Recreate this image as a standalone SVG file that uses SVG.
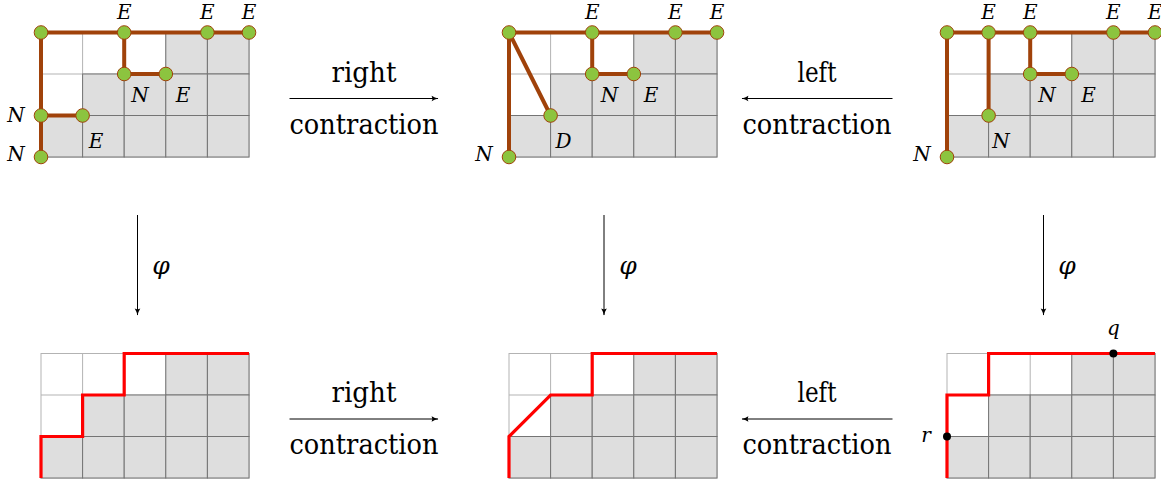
<svg xmlns="http://www.w3.org/2000/svg" xmlns:xlink="http://www.w3.org/1999/xlink" width="1161" height="482" viewBox="0 0 1161 482">
<style>
.lt{stroke:#b3b3b3;stroke-width:1;fill:none}
.sh{fill:#dedede;stroke:#747474;stroke-width:1}
.br{stroke:#a0420a;stroke-width:4;fill:none;stroke-linejoin:round}
.nd{fill:#8cc43f;stroke:#a0420a;stroke-width:1}
.red{stroke:#ff0000;stroke-width:3.2;fill:none;stroke-linejoin:miter}
.arr{stroke:#000;stroke-width:1;fill:none}
</style>
<defs>
<g id="grid">
<rect x="0" y="0" width="208" height="124.5" class="lt"/>
<path class="lt" d="M41.6 0V124.5M83.2 0V124.5M124.8 0V124.5M166.4 0V124.5M0 41.5H208M0 83H208"/>
<rect class="sh" x="124.8" y="0" width="41.6" height="41.5"/>
<rect class="sh" x="166.4" y="0" width="41.6" height="41.5"/>
<rect class="sh" x="41.6" y="41.5" width="41.6" height="41.5"/>
<rect class="sh" x="83.2" y="41.5" width="41.6" height="41.5"/>
<rect class="sh" x="124.8" y="41.5" width="41.6" height="41.5"/>
<rect class="sh" x="166.4" y="41.5" width="41.6" height="41.5"/>
<rect class="sh" x="0" y="83" width="41.6" height="41.5"/>
<rect class="sh" x="41.6" y="83" width="41.6" height="41.5"/>
<rect class="sh" x="83.2" y="83" width="41.6" height="41.5"/>
<rect class="sh" x="124.8" y="83" width="41.6" height="41.5"/>
<rect class="sh" x="166.4" y="83" width="41.6" height="41.5"/>
</g>
<marker id="ah" viewBox="0 0 10 10" refX="9" refY="5" markerWidth="8" markerHeight="8" markerUnits="userSpaceOnUse" orient="auto">
<path d="M1 1.5 Q5 4 9.5 5 Q5 6 1 8.5 Q3 5 1 1.5Z" fill="#000"/>
</marker>
</defs>

<g font-family="'DejaVu Serif', serif" font-style="italic" font-size="20" text-anchor="middle" fill="#000">
<g id="top-left">
<use xlink:href="#grid" href="#grid" x="41" y="32.5"/>
<path class="br" d="M41 157V32.5H249M124.2 32.5V74H165.8M41 115.5H82.6"/>
<circle class="nd" cx="41" cy="32.5" r="6.8"/>
<circle class="nd" cx="124.2" cy="32.5" r="6.8"/>
<circle class="nd" cx="207.4" cy="32.5" r="6.8"/>
<circle class="nd" cx="249" cy="32.5" r="6.8"/>
<circle class="nd" cx="124.2" cy="74" r="6.8"/>
<circle class="nd" cx="165.8" cy="74" r="6.8"/>
<circle class="nd" cx="41" cy="115.5" r="6.8"/>
<circle class="nd" cx="82.6" cy="115.5" r="6.8"/>
<circle class="nd" cx="41" cy="157" r="6.8"/>
<text x="124.2" y="19">E</text>
<text x="207.4" y="19">E</text>
<text x="249" y="19">E</text>
<text x="140" y="102">N</text>
<text x="183" y="102">E</text>
<text x="16" y="122">N</text>
<text x="16" y="161">N</text>
<text x="96" y="148">E</text>
</g>

<g id="top-middle">
<use xlink:href="#grid" href="#grid" x="509" y="32.5"/>
<path class="br" d="M509 157V32.5H717M509 32.5L550.6 115.5M592.2 32.5V74H633.8"/>
<circle class="nd" cx="509" cy="32.5" r="6.8"/>
<circle class="nd" cx="592.2" cy="32.5" r="6.8"/>
<circle class="nd" cx="675.4" cy="32.5" r="6.8"/>
<circle class="nd" cx="717" cy="32.5" r="6.8"/>
<circle class="nd" cx="592.2" cy="74" r="6.8"/>
<circle class="nd" cx="633.8" cy="74" r="6.8"/>
<circle class="nd" cx="550.6" cy="115.5" r="6.8"/>
<circle class="nd" cx="509" cy="157" r="6.8"/>
<text x="592.2" y="19">E</text>
<text x="675.4" y="19">E</text>
<text x="717" y="19">E</text>
<text x="609.5" y="102">N</text>
<text x="651" y="102">E</text>
<text x="563.5" y="148">D</text>
<text x="484" y="161">N</text>
</g>

<g id="top-right">
<use xlink:href="#grid" href="#grid" x="947" y="32.5"/>
<path class="br" d="M947 157V32.5H1155M988.6 32.5V115.5M1030.2 32.5V74H1071.8"/>
<circle class="nd" cx="947" cy="32.5" r="6.8"/>
<circle class="nd" cx="988.6" cy="32.5" r="6.8"/>
<circle class="nd" cx="1030.2" cy="32.5" r="6.8"/>
<circle class="nd" cx="1113.4" cy="32.5" r="6.8"/>
<circle class="nd" cx="1155" cy="32.5" r="6.8"/>
<circle class="nd" cx="1030.2" cy="74" r="6.8"/>
<circle class="nd" cx="1071.8" cy="74" r="6.8"/>
<circle class="nd" cx="988.6" cy="115.5" r="6.8"/>
<circle class="nd" cx="947" cy="157" r="6.8"/>
<text x="988.6" y="19">E</text>
<text x="1030.2" y="19">E</text>
<text x="1113.4" y="19">E</text>
<text x="1155" y="19">E</text>
<text x="1047" y="102">N</text>
<text x="1088.5" y="102">E</text>
<text x="1001" y="148">N</text>
<text x="922" y="161">N</text>
</g>

<g id="bottom-left">
<use xlink:href="#grid" href="#grid" x="41" y="353.5"/>
<path class="red" d="M41 478V436.5H82.6V395H124.2V353.5H249"/>
</g>

<g id="bottom-middle">
<use xlink:href="#grid" href="#grid" x="509" y="353.5"/>
<path class="red" d="M509 478V436.5L550.6 395H592.2V353.5H717"/>
</g>

<g id="bottom-right">
<use xlink:href="#grid" href="#grid" x="947" y="353.5"/>
<path class="red" d="M947 478V395H988.6V353.5H1155"/>
<circle cx="1113.4" cy="353.5" r="4" fill="#000"/>
<circle cx="947" cy="436.5" r="4" fill="#000"/>
<text x="1113.5" y="335">q</text>
<text x="926" y="442">r</text>
</g>

<g id="connectors">
<path class="arr" d="M289.5 98.5H438" marker-end="url(#ah)"/>
<path class="arr" d="M892.5 98.5H742" marker-end="url(#ah)"/>
<path class="arr" d="M289.5 419H438" marker-end="url(#ah)"/>
<path class="arr" d="M892.5 419H742" marker-end="url(#ah)"/>
<path class="arr" d="M137.5 215V315" marker-end="url(#ah)"/>
<path class="arr" d="M604 215V315" marker-end="url(#ah)"/>
<path class="arr" d="M1043.5 215V315" marker-end="url(#ah)"/>
<g font-style="normal" font-size="27">
<text x="364" y="82" textLength="65" lengthAdjust="spacingAndGlyphs">right</text>
<text x="364" y="134" textLength="149" lengthAdjust="spacingAndGlyphs">contraction</text>
<text x="817" y="82" textLength="39" lengthAdjust="spacingAndGlyphs">left</text>
<text x="817" y="134" textLength="149" lengthAdjust="spacingAndGlyphs">contraction</text>
<text x="364" y="402" textLength="65" lengthAdjust="spacingAndGlyphs">right</text>
<text x="364" y="454" textLength="149" lengthAdjust="spacingAndGlyphs">contraction</text>
<text x="817" y="402" textLength="39" lengthAdjust="spacingAndGlyphs">left</text>
<text x="817" y="454" textLength="149" lengthAdjust="spacingAndGlyphs">contraction</text>
</g>
<g font-size="25">
<text x="161" y="274">φ</text>
<text x="628" y="274">φ</text>
<text x="1067" y="274">φ</text>
</g>
</g>
</g>
</svg>
